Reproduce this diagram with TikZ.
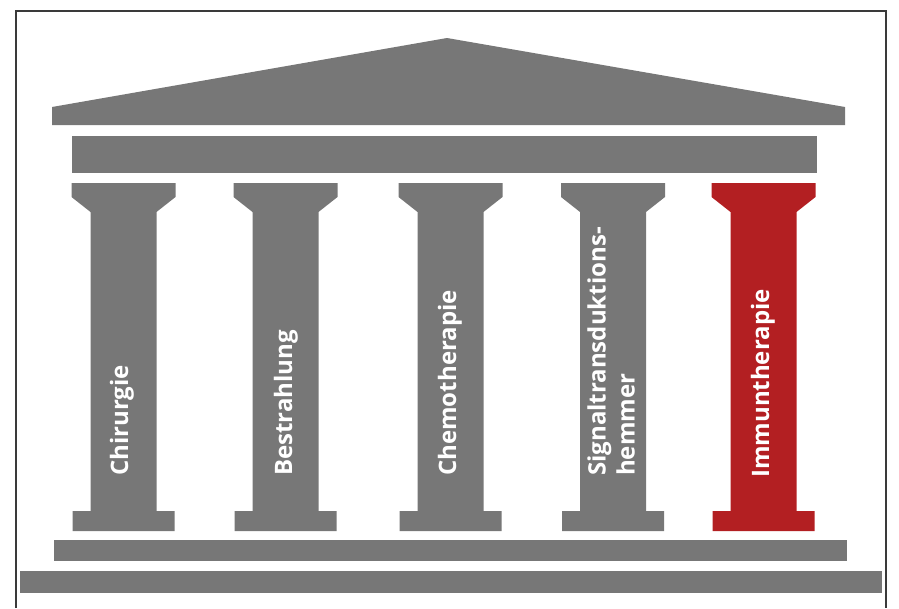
\documentclass[tikz,border=0pt]{standalone}
\usepackage{fontspec}
\setmainfont{Open Sans}
\usepackage{xcolor}
\usepackage{tikz}

\definecolor{steingrau}{HTML}{777777}
\definecolor{saeulenrot}{HTML}{B31F22}
\definecolor{rahmen}{HTML}{3A3A3A}

\tikzset{
	stein/.style={fill=steingrau},
	beschriftung/.style={text=white,font=\bfseries\fontsize{24}{29}\selectfont,
		rotate=90,anchor=west,inner sep=0pt,align=left}
}

% Saeule: #1 = Mitte, #2 = Farbe
\newcommand{\saeule}[2]{%
	\fill[#2] (#1-52,183) -- (#1+52,183) -- (#1+52,197) -- (#1+33,212)
		-- (#1+33,511) -- (#1+51,511) -- (#1+51,531) -- (#1-51,531)
		-- (#1-51,511) -- (#1-33,511) -- (#1-33,212) -- (#1-52,197) -- cycle;%
}

\begin{document}
\begin{tikzpicture}[x=1pt,y=-1pt]
		\useasboundingbox (0,0) rectangle (899,608);
		%
		% Rahmen
		\draw[rahmen,line width=1.3pt] (16,608) -- (16,11) -- (886,11) -- (886,608);
		% Dach und Gebaelk
		\fill[stein] (52,125) -- (52,107) -- (447,38) -- (845,107) -- (845,125) -- cycle;
		\fill[stein] (72,136) rectangle (817,173);
		% Saeulen
		\saeule{123.5}{steingrau}
		\saeule{285.5}{steingrau}
		\saeule{450.5}{steingrau}
		\saeule{613}{steingrau}
		\saeule{763.5}{saeulenrot}
		% Stufen
		\fill[stein] (54,540) rectangle (847,561);
		\fill[stein] (20,571) rectangle (882,593);
		%
		\node[beschriftung] (chir) at (122,476) {Chirurgie};
		\node[beschriftung] (bestr) at (286,476) {Bestrahlung};
		\node[beschriftung] (chemo) at (450,476) {Chemotherapie};
		\node[beschriftung] (signal) at (611,476) {Signaltransduktions-\\hemmer};
		\node[beschriftung] (immun) at (763,478) {Immuntherapie};
	\end{tikzpicture}
\end{document}
